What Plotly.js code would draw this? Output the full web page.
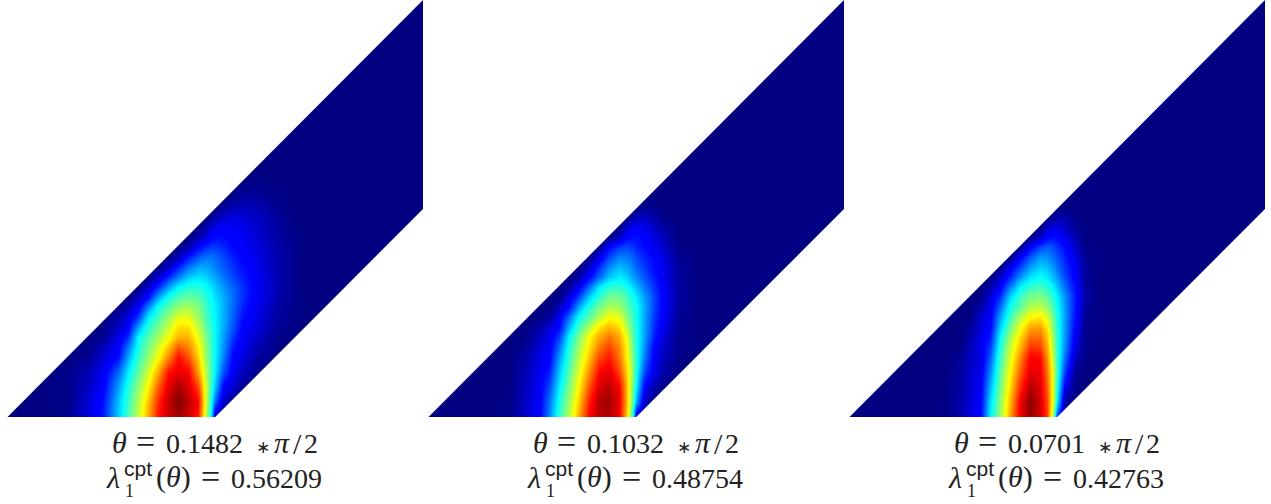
<!DOCTYPE html>
<html><head><meta charset="utf-8">
<script src="https://cdn.plot.ly/plotly-3.0.1.min.js"></script>
<style>html,body{margin:0;padding:0;background:#fff}#chart{width:1271px;height:504px}</style>
</head><body><div id="chart"></div>
<script>
const columns = [0,40,60,80,95,110,120,130,140,150,160,170,180,190,197,203,207,215,225,235,250,270,290,310,415.5];
const rows = [0,15,30,45,60,70,80,90,100,110,120,130,140,150,160,170,180,190,200,210,220,240,417];
const thetas = ['0.1482','0.1032','0.0701'];
const lambdas = ['0.56209','0.48754','0.42763'];

const field1 = [
[0,0,.015,.08,.15,.325,.445,.57,.71,.86,.92,.97,.92,.85,.59,.35,.05,0,0,0,0,0,0,0,0],
[0,0,.01,.075,.14,.315,.43,.55,.685,.835,.93,1,.94,.875,.61,.39,.22,.065,.01,0,0,0,0,0,0],
[0,0,.01,.06,.115,.28,.405,.515,.635,.785,.9,.96,.915,.81,.605,.425,.315,.12,.065,.015,.003,0,0,0,0],
[0,0,.008,.045,.1,.225,.36,.47,.58,.71,.86,.895,.88,.72,.57,.44,.355,.205,.1,.05,.01,0,0,0,0],
[0,0,0,.018,.07,.135,.295,.425,.52,.62,.74,.865,.8,.67,.535,.435,.37,.255,.12,.08,.025,.005,0,0,0],
[0,0,0,.005,.05,.11,.24,.395,.49,.58,.68,.79,.745,.645,.525,.43,.37,.27,.145,.095,.04,.005,0,0,0],
[0,0,0,0,.015,.09,.17,.375,.455,.535,.615,.7,.7,.605,.505,.425,.37,.28,.175,.105,.06,.01,0,0,0],
[0,0,0,0,.005,.06,.115,.285,.415,.49,.57,.655,.655,.57,.475,.415,.37,.295,.2,.115,.075,.015,0,0,0],
[0,0,0,0,0,.03,.09,.18,.36,.44,.52,.6,.6,.53,.455,.4,.365,.3,.215,.135,.085,.025,.003,0,0],
[0,0,0,0,0,0,.04,.11,.255,.395,.46,.52,.54,.5,.44,.39,.36,.3,.225,.15,.09,.03,.005,0,0],
[0,0,0,0,0,0,0,.05,.135,.285,.395,.45,.475,.46,.415,.375,.345,.295,.23,.165,.1,.04,.005,0,0],
[0,0,0,0,0,0,0,0,.06,.165,.28,.37,.41,.41,.385,.35,.325,.275,.22,.165,.1,.04,.005,0,0],
[0,0,0,0,0,0,0,0,0,.07,.16,.25,.32,.35,.335,.305,.285,.24,.19,.15,.1,.04,.005,0,0],
[0,0,0,0,0,0,0,0,0,0,.06,.155,.235,.29,.29,.27,.25,.215,.17,.135,.09,.04,.005,0,0],
[0,0,0,0,0,0,0,0,0,0,0,.045,.145,.21,.235,.24,.23,.195,.15,.12,.085,.04,.005,0,0],
[0,0,0,0,0,0,0,0,0,0,0,0,.035,.125,.16,.18,.18,.16,.125,.105,.08,.035,.005,0,0],
[0,0,0,0,0,0,0,0,0,0,0,0,0,.035,.075,.115,.13,.135,.115,.1,.07,.03,.003,0,0],
[0,0,0,0,0,0,0,0,0,0,0,0,0,0,.03,.075,.09,.105,.1,.09,.065,.025,0,0,0],
[0,0,0,0,0,0,0,0,0,0,0,0,0,0,0,.01,.04,.07,.08,.075,.055,.02,0,0,0],
[0,0,0,0,0,0,0,0,0,0,0,0,0,0,0,0,0,.02,.045,.05,.04,.012,0,0,0],
[0,0,0,0,0,0,0,0,0,0,0,0,0,0,0,0,0,0,.01,.025,.025,.005,0,0,0],
[0,0,0,0,0,0,0,0,0,0,0,0,0,0,0,0,0,0,0,0,0,0,0,0,0],
[0,0,0,0,0,0,0,0,0,0,0,0,0,0,0,0,0,0,0,0,0,0,0,0,0]];

const field2 = [
[0,0,0,.015,.06,.115,.25,.42,.56,.715,.875,.94,.945,.885,.69,.44,.08,0,0,0,0,0,0,0,0],
[0,0,0,.005,.055,.11,.235,.4,.53,.68,.85,.955,.97,.89,.715,.49,.3,.06,.005,0,0,0,0,0,0],
[0,0,0,0,.05,.105,.195,.36,.5,.64,.795,.91,.94,.88,.705,.51,.365,.12,.035,.005,0,0,0,0,0],
[0,0,0,0,.04,.095,.15,.32,.465,.6,.74,.875,.905,.81,.68,.53,.4,.2,.09,.03,.003,0,0,0,0],
[0,0,0,0,.03,.085,.115,.275,.43,.56,.685,.805,.85,.76,.64,.51,.41,.25,.105,.05,.005,0,0,0,0],
[0,0,0,0,.015,.07,.105,.235,.405,.535,.65,.755,.81,.74,.64,.495,.405,.27,.115,.06,.01,0,0,0,0],
[0,0,0,0,0,.055,.095,.185,.375,.505,.625,.71,.76,.71,.615,.48,.4,.285,.15,.07,.01,0,0,0,0],
[0,0,0,0,0,.03,.075,.125,.305,.44,.55,.65,.695,.66,.56,.455,.395,.29,.165,.09,.015,0,0,0,0],
[0,0,0,0,0,0,.02,.1,.235,.385,.465,.55,.62,.6,.52,.44,.39,.29,.18,.1,.015,0,0,0,0],
[0,0,0,0,0,0,0,.05,.14,.295,.41,.49,.545,.53,.475,.42,.385,.295,.19,.105,.02,0,0,0,0],
[0,0,0,0,0,0,0,0,.085,.195,.33,.42,.485,.485,.445,.395,.36,.28,.19,.105,.025,0,0,0,0],
[0,0,0,0,0,0,0,0,.02,.11,.23,.36,.42,.42,.395,.345,.315,.245,.17,.105,.025,0,0,0,0],
[0,0,0,0,0,0,0,0,0,.035,.125,.225,.32,.36,.335,.29,.26,.205,.15,.09,.025,0,0,0,0],
[0,0,0,0,0,0,0,0,0,0,.06,.165,.26,.31,.29,.255,.225,.18,.13,.09,.02,0,0,0,0],
[0,0,0,0,0,0,0,0,0,0,0,.095,.195,.25,.245,.22,.195,.16,.12,.08,.015,0,0,0,0],
[0,0,0,0,0,0,0,0,0,0,0,0,.125,.18,.195,.18,.16,.13,.095,.06,.005,0,0,0,0],
[0,0,0,0,0,0,0,0,0,0,0,0,0,.06,.12,.135,.14,.115,.08,.045,0,0,0,0,0],
[0,0,0,0,0,0,0,0,0,0,0,0,0,0,.06,.1,.105,.09,.06,.03,0,0,0,0,0],
[0,0,0,0,0,0,0,0,0,0,0,0,0,0,0,.02,.045,.06,.035,.005,0,0,0,0,0],
[0,0,0,0,0,0,0,0,0,0,0,0,0,0,0,0,0,.01,.012,0,0,0,0,0,0],
[0,0,0,0,0,0,0,0,0,0,0,0,0,0,0,0,0,0,0,0,0,0,0,0,0],
[0,0,0,0,0,0,0,0,0,0,0,0,0,0,0,0,0,0,0,0,0,0,0,0,0],
[0,0,0,0,0,0,0,0,0,0,0,0,0,0,0,0,0,0,0,0,0,0,0,0,0]];

const field3 = [
[0,0,0,0,.005,.04,.08,.12,.36,.53,.72,.895,.975,.915,.815,.53,.175,0,0,0,0,0,0,0,0],
[0,0,0,0,.005,.035,.075,.11,.34,.515,.695,.885,.995,.915,.805,.585,.355,.02,0,0,0,0,0,0,0],
[0,0,0,0,.003,.03,.07,.1,.3,.49,.66,.835,.95,.905,.785,.59,.39,.095,.005,0,0,0,0,0,0],
[0,0,0,0,0,.025,.065,.09,.26,.465,.63,.785,.905,.885,.76,.595,.42,.175,.015,0,0,0,0,0,0],
[0,0,0,0,0,.02,.06,.075,.215,.43,.595,.74,.88,.87,.73,.56,.415,.23,.055,.005,0,0,0,0,0],
[0,0,0,0,0,0,.05,.095,.18,.405,.57,.695,.825,.81,.7,.545,.41,.255,.08,.01,0,0,0,0,0],
[0,0,0,0,0,0,.035,.085,.15,.375,.535,.66,.77,.77,.68,.53,.415,.265,.1,.01,0,0,0,0,0],
[0,0,0,0,0,0,.025,.07,.12,.325,.485,.61,.71,.72,.64,.495,.405,.27,.12,.01,0,0,0,0,0],
[0,0,0,0,0,0,0,.065,.11,.285,.43,.55,.63,.645,.585,.48,.4,.275,.135,.015,0,0,0,0,0],
[0,0,0,0,0,0,0,.035,.095,.23,.39,.47,.55,.56,.52,.44,.385,.27,.14,.02,0,0,0,0,0],
[0,0,0,0,0,0,0,0,.08,.17,.34,.43,.495,.505,.47,.41,.365,.265,.145,.03,0,0,0,0,0],
[0,0,0,0,0,0,0,0,.03,.115,.25,.37,.43,.44,.415,.365,.32,.23,.13,.025,0,0,0,0,0],
[0,0,0,0,0,0,0,0,0,.065,.16,.27,.35,.38,.355,.31,.27,.19,.11,.02,0,0,0,0,0],
[0,0,0,0,0,0,0,0,0,0,.095,.19,.28,.33,.31,.27,.235,.17,.105,.02,0,0,0,0,0],
[0,0,0,0,0,0,0,0,0,0,0,.115,.21,.275,.265,.235,.205,.15,.09,.015,0,0,0,0,0],
[0,0,0,0,0,0,0,0,0,0,0,0,.115,.19,.215,.2,.175,.13,.065,.005,0,0,0,0,0],
[0,0,0,0,0,0,0,0,0,0,0,0,0,.06,.12,.135,.125,.09,.04,0,0,0,0,0,0],
[0,0,0,0,0,0,0,0,0,0,0,0,0,0,.06,.085,.085,.06,.02,0,0,0,0,0,0],
[0,0,0,0,0,0,0,0,0,0,0,0,0,0,0,.015,.04,.035,.005,0,0,0,0,0,0],
[0,0,0,0,0,0,0,0,0,0,0,0,0,0,0,0,0,0,0,0,0,0,0,0,0],
[0,0,0,0,0,0,0,0,0,0,0,0,0,0,0,0,0,0,0,0,0,0,0,0,0],
[0,0,0,0,0,0,0,0,0,0,0,0,0,0,0,0,0,0,0,0,0,0,0,0,0],
[0,0,0,0,0,0,0,0,0,0,0,0,0,0,0,0,0,0,0,0,0,0,0,0,0]];

const fields = [field1, field2, field3];
const jet = [[0,'#000080'],[0.11,'#0000ff'],[0.125,'#0000ff'],[0.375,'#00ffff'],[0.625,'#ffff00'],[0.875,'#ff0000'],[1,'#800000']];
const W = 1271, H = 504, panelLeft = 7, panelStep = 421, panelW = 416, panelH = 417;
const serif = 'Liberation Serif, serif', sans = 'Liberation Sans, sans-serif', dejavu = 'DejaVu Sans, sans-serif', ink = '#222';

const data = [], shapes = [], annotations = [];
const layout = {width:W, height:H, margin:{l:0,r:0,t:0,b:0}, paper_bgcolor:'#fff', plot_bgcolor:'#fff', showlegend:false, shapes, annotations};

function put(text, px, baseline, size, family) {
  annotations.push({text, xref:'paper', yref:'paper', x:px/W, y:1-baseline/H, xanchor:'left', yanchor:'bottom',
    showarrow:false, align:'left', borderpad:0, font:{family, size, color:ink}});
}

fields.forEach((z, i) => {
  const s = i ? String(i+1) : '';
  const left = panelLeft + i*panelStep, o = i*panelStep;
  data.push({type:'heatmap', x:columns, y:rows, z, xaxis:'x'+s, yaxis:'y'+s, colorscale:jet, zmin:0, zmax:1, zsmooth:'best', showscale:false, hoverinfo:'skip'});
  layout['xaxis'+s] = {domain:[left/W,(left+panelW)/W], range:[-0.5,415.5], visible:false, fixedrange:true};
  layout['yaxis'+s] = {domain:[1-panelH/H,1], range:[0,panelH], visible:false, fixedrange:true, anchor:'x'+s};
  const xr = 'x'+s, yr = 'y'+s;
  shapes.push({type:'path', xref:xr, yref:yr, path:`M -4 0 L 0 0 L 415.5 417 L 415.5 421 L -4 421 Z`, fillcolor:'#fff', line:{width:0}, layer:'above'});
  shapes.push({type:'path', xref:xr, yref:yr, path:`M 207.7 0 L 415.5 208 L 419 208 L 419 -3 L 207.7 -3 Z`, fillcolor:'#fff', line:{width:0}, layer:'above'});
  // label, line 1
  put('<i>θ</i>', 111+o, 460, 30, serif);
  put('=', 135+o, 461, 34, serif);
  put(thetas[i], 165+o, 460, 28, serif);
  put('∗', 255+o, 458, 17, dejavu);
  put('<i>π</i>', 273+o, 460, 30, serif);
  put('/', 292+o, 461, 30, serif);
  put('2', 303+o, 460, 28, serif);
  // label, line 2
  put('<i>λ</i>', 105+o, 495, 30, serif);
  put('cpt', 123+o, 481, 21, sans);
  put('1', 124+o, 502, 18, serif);
  put('(<i>θ</i>)', 155+o, 495, 30, serif);
  put('=', 200+o, 496, 34, serif);
  put(lambdas[i], 230+o, 495, 28, serif);
});

Plotly.newPlot('chart', data, layout, {displayModeBar:false, staticPlot:true});
</script></body></html>
